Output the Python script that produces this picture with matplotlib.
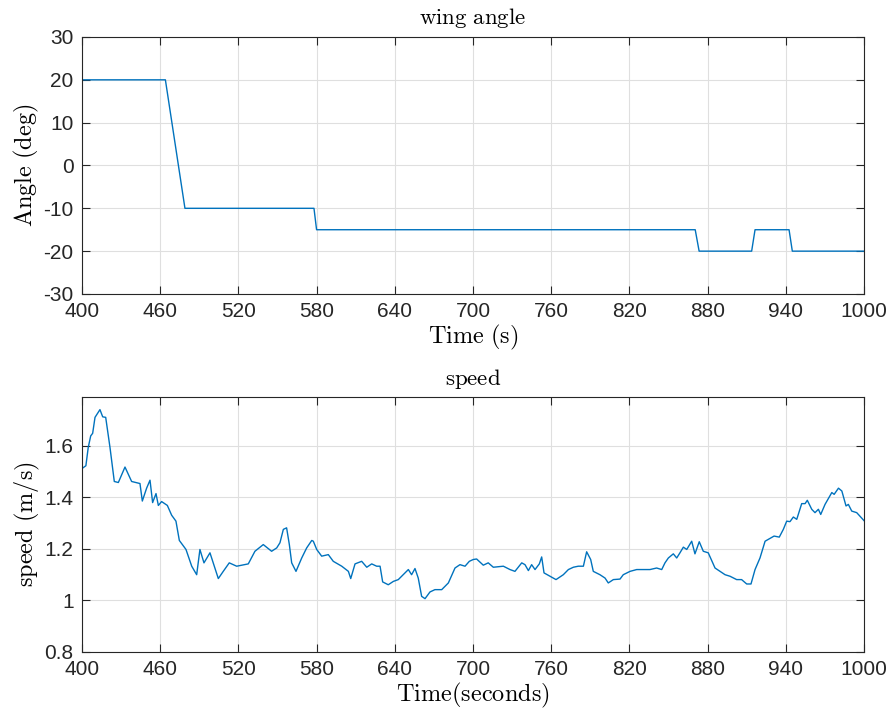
import numpy as np
import matplotlib
matplotlib.use("Agg")
import matplotlib.pyplot as plt

# wing angle schedule (time s, angle deg)
wing_t = [400, 464, 479, 578, 580, 870.5, 873.5, 913.8, 916.4, 942.5, 945, 1000]
wing_a = [20, 20, -10, -10, -15, -15, -20, -20, -15, -15, -20, -20]

# speed trace (time s, speed m/s)
speed_t = [400.5, 403, 404.8, 406.7, 408.2, 410, 413.8, 415.9, 418.2, 421.5, 424.8, 427.9,
           433, 438.1, 444.5, 446.3, 449.6, 452.2, 454.2, 456.8, 458.6, 461.1, 465.5, 468.8,
           472.1, 474.7, 479.8, 484.2, 488, 490.5, 493.6, 498.2, 504.6, 508.4, 513, 518.7,
           527.6, 532.7, 539.1, 545.5, 549.4, 551.9, 554.5, 557, 559.1, 560.9, 564.2, 568.6,
           572.4, 576.3, 577.5, 580.1, 583.9, 589, 592.8, 599.3, 604.4, 606.2, 609.5, 614.6,
           618.5, 622.3, 626.1, 628.7, 630.7, 635, 638.9, 642.7, 646.5, 650.4, 652.9, 655.5,
           658, 660.6, 663.2, 667, 670.8, 676, 681.1, 686.2, 690, 693.9, 697.2, 700.2, 702.8,
           707.9, 711.7, 715.6, 723.3, 728.4, 732.2, 737.4, 739.9, 742.5, 745, 747.6, 750.9,
           752.7, 754.5, 759.1, 763.7, 769.3, 773.2, 777, 780.8, 784.7, 787.2, 790.3, 792.3,
           797.4, 801.3, 803.8, 807.7, 812.8, 815.3, 820.5, 825.6, 830.7, 835.8, 840.9, 844.8,
           847.3, 849.9, 853.7, 856.3, 858.8, 861.4, 864, 867.8, 870.3, 873.6, 876.7, 880.5,
           885.7, 889.5, 893.4, 897.2, 902.3, 906.1, 910, 913.3, 916.4, 920.2, 924.1, 927.9,
           931, 935, 938.1, 940.7, 943.2, 945.8, 948.4, 952.2, 954.8, 956.5, 959.9, 962.4,
           965, 966.8, 970.1, 975.3, 977.1, 980.4, 983, 986.2, 988, 990.6, 994.4, 1000]
speed_v = [1.514, 1.523, 1.594, 1.639, 1.649, 1.711, 1.741, 1.713, 1.711, 1.594, 1.462, 1.458,
           1.518, 1.462, 1.454, 1.386, 1.436, 1.467, 1.380, 1.415, 1.369, 1.384, 1.369, 1.331,
           1.308, 1.233, 1.198, 1.133, 1.100, 1.198, 1.146, 1.185, 1.085, 1.113, 1.146, 1.133,
           1.142, 1.191, 1.217, 1.191, 1.204, 1.224, 1.276, 1.282, 1.217, 1.146, 1.113, 1.165,
           1.204, 1.233, 1.230, 1.198, 1.172, 1.178, 1.152, 1.133, 1.113, 1.085, 1.142, 1.152,
           1.129, 1.142, 1.133, 1.133, 1.072, 1.061, 1.074, 1.081, 1.100, 1.120, 1.100, 1.124,
           1.087, 1.016, 1.007, 1.033, 1.042, 1.042, 1.068, 1.126, 1.139, 1.133, 1.152, 1.159, 1.161,
           1.137, 1.146, 1.129, 1.133, 1.120, 1.113, 1.146, 1.139, 1.116, 1.139, 1.120, 1.142,
           1.169, 1.107, 1.094, 1.081, 1.100, 1.120, 1.129, 1.133, 1.133, 1.189, 1.159, 1.113,
           1.100, 1.087, 1.068, 1.081, 1.083, 1.100, 1.113, 1.120, 1.120, 1.120, 1.126, 1.120,
           1.146, 1.165, 1.181, 1.165, 1.185, 1.207, 1.198, 1.230, 1.181, 1.228, 1.191, 1.185,
           1.126, 1.113, 1.100, 1.094, 1.081, 1.081, 1.064, 1.064, 1.120, 1.165, 1.230, 1.241,
           1.250, 1.246, 1.276, 1.308, 1.306, 1.324, 1.315, 1.376, 1.376, 1.389, 1.354, 1.341,
           1.354, 1.334, 1.373, 1.419, 1.412, 1.436, 1.425, 1.367, 1.373, 1.347, 1.341, 1.310]

xticks = [400, 460, 520, 580, 640, 700, 760, 820, 880, 940, 1000]

plt.rcParams['mathtext.fontset'] = 'cm'
plt.rcParams['font.family'] = ['Liberation Sans', 'DejaVu Sans']
plt.rcParams['axes.unicode_minus'] = False

blue = '#0072BD'
tick_col = '#262626'

fig = plt.figure(figsize=(8.91, 7.17), dpi=100)
ax1 = fig.add_axes([0.092, 0.590, 0.8777, 0.3584])
ax2 = fig.add_axes([0.092, 0.0907, 0.8777, 0.3556])

for ax in (ax1, ax2):
    ax.set_xlim(400, 1000)
    ax.set_xticks(xticks)
    ax.grid(True, color='#dfdfdf', linewidth=0.8)
    ax.set_axisbelow(True)
    ax.tick_params(direction='in', top=True, right=True, labelsize=15,
                   colors=tick_col, length=6, width=0.8, pad=6)
    for s in ax.spines.values():
        s.set_color(tick_col)
        s.set_linewidth(0.8)

ax1.plot(wing_t, wing_a, color=blue, linewidth=1.0)
ax1.set_ylim(-30, 30)
ax1.set_yticks(range(-30, 31, 10))
ax1.set_title(r'$\mathrm{wing\ angle}$', fontsize=16.5, pad=9)
ax1.set_xlabel(r'$\mathrm{Time\ (s)}$', fontsize=17.5, labelpad=1)
ax1.set_ylabel(r'$\mathrm{Angle\ (deg)}$', fontsize=17.5, labelpad=2)

ax2.plot(speed_t, speed_v, color=blue, linewidth=1.0)
ax2.set_ylim(0.8, 1.79)
ax2.set_yticks([0.8, 1.0, 1.2, 1.4, 1.6])
ax2.set_yticklabels(['0.8', '1', '1.2', '1.4', '1.6'])
ax2.set_title(r'$\mathrm{speed}$', fontsize=16.5, pad=9)
ax2.set_xlabel(r'$\mathrm{Time(seconds)}$', fontsize=17.5, labelpad=1)
ax2.set_ylabel(r'$\mathrm{speed\ (m/s)}$', fontsize=17.5, labelpad=2)

fig.savefig('out.png', dpi=100)
